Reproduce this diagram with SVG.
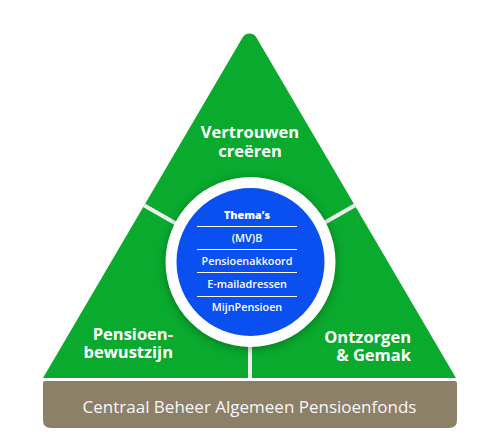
<svg xmlns="http://www.w3.org/2000/svg" width="478" height="446" viewBox="0 0 478 446">
  <style>
    .lbl { font-family: "Open Sans", "Liberation Sans", sans-serif; font-weight: 700; font-size: 16.5px; fill: #ffffff; }
    .item { font-family: "Open Sans", "Liberation Sans", sans-serif; font-weight: 600; font-size: 10.8px; fill: #ffffff; text-anchor: middle; }
    .head { font-weight: 800; }
    .sep { stroke: #ffffff; stroke-width: 1; }
    .div { stroke: #eeeeee; stroke-width: 4; }
  </style>
  <defs>
    <clipPath id="triClip">
      <path d="M 43 378 L 242.6 37.4 A 8 8 0 0 1 256.4 37.4 L 456 378 Z"/>
    </clipPath>
    <filter id="shadow" x="-30%" y="-30%" width="160%" height="160%">
      <feGaussianBlur stdDeviation="4"/>
    </filter>
  </defs>
  <rect width="478" height="446" fill="#ffffff"/>

  <g id="triangle">
    <path d="M 43 378 L 242.6 37.4 A 8 8 0 0 1 256.4 37.4 L 456 378 Z" fill="#0aaa2e"/>
  </g>

  <g id="connectors" clip-path="url(#triClip)">
    <line class="div" x1="140" y1="203" x2="210" y2="243"/>
    <line class="div" x1="359" y1="203" x2="289" y2="243"/>
    <line class="div" x1="250" y1="300" x2="250" y2="379" stroke-width="3"/>
  </g>

  <g id="top-label">
    <text class="lbl" x="250" y="138" text-anchor="middle">Vertrouwen</text>
    <text class="lbl" x="250" y="157" text-anchor="middle">creëren</text>
  </g>

  <g id="left-label">
    <text class="lbl" x="173" y="340" text-anchor="end">Pensioen-</text>
    <text class="lbl" x="173" y="358" text-anchor="end">bewustzijn</text>
  </g>

  <g id="right-label">
    <text class="lbl" x="411" y="343" text-anchor="end">Ontzorgen</text>
    <text class="lbl" x="411" y="361" text-anchor="end">&amp; Gemak</text>
  </g>

  <g id="themes">
    <circle cx="250.5" cy="264" r="86" fill="#000000" opacity="0.25" filter="url(#shadow)" clip-path="url(#triClip)"/>
    <circle cx="250.5" cy="262" r="85" fill="#ffffff"/>
    <circle cx="250.5" cy="262" r="74" fill="#0a50f0"/>
    <text class="item head" x="247" y="219">Thema’s</text>
    <line class="sep" x1="197" y1="226.5" x2="297" y2="226.5"/>
    <text class="item" x="247" y="242">(MV)B</text>
    <line class="sep" x1="197" y1="249.5" x2="297" y2="249.5"/>
    <text class="item" x="247" y="265">Pensioenakkoord</text>
    <line class="sep" x1="197" y1="272.5" x2="297" y2="272.5"/>
    <text class="item" x="247" y="288">E-mailadressen</text>
    <line class="sep" x1="197" y1="296.5" x2="297" y2="296.5"/>
    <text class="item" x="247" y="311">MijnPensioen</text>
  </g>

  <g id="base">
    <path d="M 45 381 H 455 Q 457 381 457 383 V 420 Q 457 428 449 428 H 51 Q 43 428 43 420 V 383 Q 43 381 45 381 Z" fill="#8d8068"/>
    <text x="249.5" y="413" text-anchor="middle" font-family="'Open Sans', 'Liberation Sans', sans-serif" font-size="17" font-weight="500" fill="#f7f7f7">Centraal Beheer Algemeen Pensioenfonds</text>
  </g>
</svg>
